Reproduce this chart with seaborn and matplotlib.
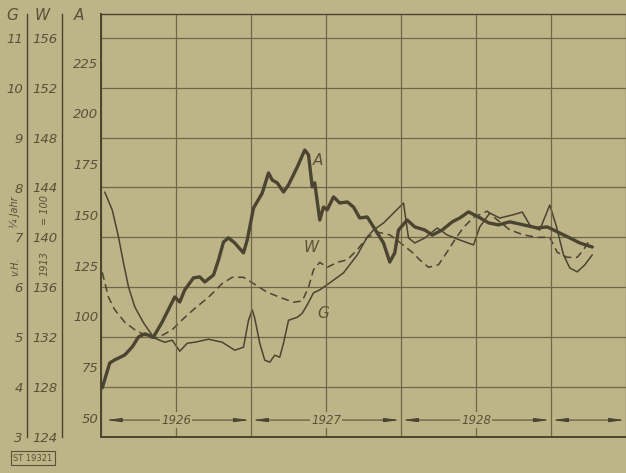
import numpy as np
import pandas as pd
import seaborn as sns
import matplotlib.pyplot as plt
from matplotlib.ticker import MultipleLocator

# months counted from January 1926
a_month = [0.1, 0.7, 1.1, 1.9, 2.5, 3.0, 3.5, 4.2, 4.9, 5.9, 6.3, 6.7, 7.4, 7.9, 8.3, 9.0,
           9.4, 9.8, 10.2, 10.7, 11.4, 11.7, 12.2, 12.9, 13.4, 13.7, 14.1, 14.6, 15.0, 15.7,
           16.3, 16.6, 16.9, 17.1, 17.5, 17.8, 18.1, 18.6, 19.1, 19.7, 20.2, 20.7, 21.3, 21.8,
           22.6, 23.1, 23.5, 23.8, 24.5, 25.1, 25.9, 26.5, 27.3, 28.1, 28.7, 29.4, 30.2, 31.0,
           31.8, 32.7, 33.8, 34.9, 35.7, 36.7, 37.5, 38.3, 39.3]
a_value = [64.8, 77.1, 78.6, 81.0, 85.0, 89.9, 91.4, 89.9, 97.3, 109.6, 107.1, 113.1, 119.0,
           119.5, 117.0, 120.4, 127.8, 136.7, 138.7, 136.2, 131.3, 137.7, 153.4, 160.8, 170.7,
           167.2, 165.8, 161.3, 164.8, 173.6, 182.0, 179.6, 163.8, 165.8, 147.5, 153.9, 152.5,
           158.9, 155.9, 156.4, 153.9, 148.5, 149.0, 144.1, 136.2, 126.8, 131.3, 142.6, 147.5,
           144.1, 142.6, 140.1, 142.6, 146.6, 148.5, 151.5, 149.0, 146.1, 145.1, 146.6, 145.1,
           143.6, 144.1, 141.1, 138.7, 136.2, 134.2]

w_month = [0.1, 0.6, 1.1, 1.9, 2.7, 3.8, 4.3, 5.0, 5.7, 6.5, 7.5, 8.6, 9.7, 10.5, 11.4, 12.2,
           13.3, 14.3, 15.4, 16.1, 16.6, 17.0, 17.5, 18.1, 18.9, 19.7, 20.5, 21.3, 22.2, 23.1,
           23.9, 24.9, 25.5, 26.2, 27.0, 27.8, 28.3, 29.0, 29.8, 30.9, 31.7, 32.7, 33.8, 34.9,
           35.9, 36.5, 37.3, 38.1, 38.6, 39.1]
w_value = [137.2, 135.2, 134.2, 133.2, 132.6, 132.0, 131.9, 132.2, 132.6, 133.4, 134.3, 135.2,
           136.3, 136.8, 136.8, 136.3, 135.6, 135.2, 134.8, 134.9, 136.0, 137.4, 138.0, 137.6,
           138.0, 138.2, 139.0, 140.0, 140.4, 140.2, 139.6, 138.8, 138.2, 137.6, 137.8, 139.0,
           139.8, 140.8, 141.6, 142.1, 141.4, 140.6, 140.2, 140.0, 140.0, 138.8, 138.4, 138.4,
           139.0, 139.8]

g_month = [0.3, 0.9, 1.4, 1.8, 2.2, 2.7, 3.4, 4.2, 4.5, 5.1, 5.7, 6.3, 6.9, 7.5, 8.6, 9.7,
           10.7, 11.4, 11.8, 12.1, 12.3, 12.7, 13.1, 13.5, 13.9, 14.3, 14.6, 15.0, 15.7, 16.1,
           16.5, 17.0, 17.5, 18.3, 19.4, 20.5, 21.3, 21.8, 22.6, 23.4, 24.2, 24.6, 25.1, 25.9,
           26.9, 27.7, 28.7, 29.8, 30.3, 31.1, 31.9, 32.9, 33.7, 34.3, 35.1, 35.9, 36.4, 37.0,
           37.5, 38.1, 38.7, 39.3]
g_value = [7.91, 7.55, 7.01, 6.49, 6.01, 5.61, 5.29, 5.00, 4.96, 4.90, 4.94, 4.72, 4.88, 4.90,
           4.96, 4.90, 4.74, 4.80, 5.34, 5.55, 5.38, 4.88, 4.54, 4.50, 4.64, 4.60, 4.88, 5.34,
           5.40, 5.48, 5.65, 5.89, 5.95, 6.09, 6.29, 6.65, 7.01, 7.15, 7.29, 7.49, 7.69, 6.99,
           6.89, 6.99, 7.19, 7.05, 6.95, 6.85, 7.21, 7.49, 7.39, 7.45, 7.51, 7.25, 7.15, 7.65,
           7.25, 6.65, 6.39, 6.31, 6.45, 6.65]

a_ticks = [50, 75, 100, 125, 150, 175, 200, 225]
w_ticks = [124, 128, 132, 136, 140, 144, 148, 152, 156]
g_ticks = [3, 4, 5, 6, 7, 8, 9, 10, 11]
years = ['1926', '1927', '1928']
year_mid = [6, 18, 30]
year_bounds = [0.3, 12, 24, 36, 42]

paper = '#bdb487'
ink = '#4a4430'
grid_ink = '#6f6748'
text_ink = '#5a5238'

sns.set_style('white')
plt.rcParams['font.family'] = ['DejaVu Sans']

fig = plt.figure(figsize=(6.26, 4.73), dpi=100, facecolor=paper)
ax = fig.add_axes([101 / 626, 1 - 437 / 473, 525 / 626, 423 / 473])
axW = ax.twinx()
axG = ax.twinx()
ax.set_zorder(3)
axG.set_zorder(2)
axW.set_zorder(1)
for a in (ax, axW, axG):
    a.patch.set_visible(False)

ax.set_xlim(0, 42)
ax.set_ylim(40.6, 249.0)
axW.set_ylim(124, 157.9)
axG.set_ylim(3, 11.48)

# series
sns.lineplot(x=w_month, y=w_value, ax=axW, color=ink, linewidth=1.1, linestyle=(0, (5, 3)))
sns.lineplot(x=g_month, y=g_value, ax=axG, color=ink, linewidth=1.1)
sns.lineplot(x=a_month, y=a_value, ax=ax, color=ink, linewidth=2.4)

# grid
ax.xaxis.set_major_locator(MultipleLocator(6))
ax.xaxis.set_minor_locator(MultipleLocator(1))
ax.grid(axis='x', which='major', color=grid_ink, linewidth=0.9)
axW.set_yticks(w_ticks)
axW.grid(axis='y', color=grid_ink, linewidth=0.9)
ax.tick_params(axis='x', which='both', direction='in', length=4.5, width=0.8,
               color=grid_ink, labelbottom=False)

# A axis at plot edge
ax.set_yticks(a_ticks)
ax.tick_params(axis='y', length=0, pad=2, labelsize=9.5, labelcolor=text_ink)
for s in ('left', 'top', 'bottom'):
    ax.spines[s].set_color(ink)
ax.spines['left'].set_linewidth(1.4)
ax.spines['bottom'].set_linewidth(1.4)
ax.spines['top'].set_linewidth(1.0)
ax.spines['right'].set_visible(False)

# W and G axes to the left
for a, pos, ticks in ((axW, -0.0743, w_ticks), (axG, -0.141, g_ticks)):
    a.set_yticks(ticks)
    a.yaxis.set_ticks_position('left')
    a.yaxis.set_label_position('left')
    a.spines['left'].set_visible(True)
    a.spines['left'].set_position(('axes', pos))
    a.spines['left'].set_color(ink)
    a.spines['left'].set_linewidth(1.0)
    for s in ('right', 'top', 'bottom'):
        a.spines[s].set_visible(False)
    a.tick_params(axis='y', length=0, pad=3, labelsize=9.5, labelcolor=text_ink)
    a.set_ylabel('')

for a in (ax, axW, axG):
    for lab in a.get_yticklabels():
        lab.set_fontstyle('italic')

# year arrows at the bottom
trans = ax.get_xaxis_transform()
for i in range(len(year_bounds) - 1):
    ax.annotate('', xy=(year_bounds[i], 0.040), xytext=(year_bounds[i + 1], 0.040),
                xycoords=trans, textcoords=trans,
                arrowprops=dict(arrowstyle='<|-|>,head_length=0.9,head_width=0.12',
                                color=ink, linewidth=0.7, shrinkA=1, shrinkB=1))
for yr, m in zip(years, year_mid):
    ax.text(m, 0.040, yr, transform=trans, ha='center', va='center', fontsize=8.5,
            style='italic', color=text_ink,
            bbox=dict(facecolor=paper, edgecolor='none', pad=1))

# series labels
ax.text(17.4, 177, 'A', fontsize=11, style='italic', color=text_ink, ha='center', va='center')
axW.text(16.8, 139.2, 'W', fontsize=11, style='italic', color=text_ink, ha='center', va='center')
axG.text(17.8, 5.48, 'G', fontsize=11, style='italic', color=text_ink, ha='center', va='center')

# column headers and units
fig.text(12 / 626, 1 - 15 / 473, 'G', fontsize=11, style='italic', color=text_ink, ha='center', va='center')
fig.text(42 / 626, 1 - 15 / 473, 'W', fontsize=11, style='italic', color=text_ink, ha='center', va='center')
fig.text(79 / 626, 1 - 15 / 473, 'A', fontsize=11, style='italic', color=text_ink, ha='center', va='center')
fig.text(15 / 626, 1 - 267 / 473, 'v.H.', fontsize=7, style='italic', color=text_ink,
         rotation=90, ha='center', va='center')
fig.text(15 / 626, 1 - 212 / 473, '¼ Jahr', fontsize=7, style='italic', color=text_ink,
         rotation=90, ha='center', va='center')
fig.text(45 / 626, 1 - 264 / 473, '1913', fontsize=7, style='italic', color=text_ink,
         rotation=90, ha='center', va='center')
fig.text(45 / 626, 1 - 210 / 473, '= 100', fontsize=7, style='italic', color=text_ink,
         rotation=90, ha='center', va='center')
fig.text(33 / 626, 1 - 458 / 473, 'ST 19321', fontsize=6, color=text_ink, ha='center', va='center',
         bbox=dict(facecolor='none', edgecolor=text_ink, linewidth=0.8, pad=1.5))

fig.savefig('out.png', dpi=100, facecolor=paper)
